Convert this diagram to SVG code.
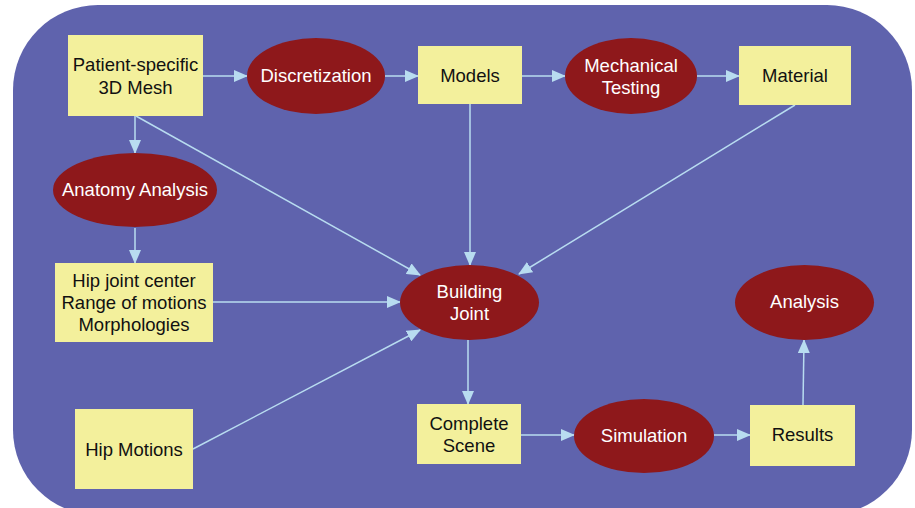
<svg xmlns="http://www.w3.org/2000/svg" width="915" height="508" viewBox="0 0 915 508">
<style>
.box{fill:#f3f09c;}
.ell{fill:#8e181b;}
.bt{font-family:"Liberation Sans",Arial,sans-serif;font-size:18.5px;fill:#111;text-anchor:middle;}
.et{font-family:"Liberation Sans",Arial,sans-serif;font-size:18.5px;fill:#fff;text-anchor:middle;}
.c line{stroke:#b8dcf0;stroke-width:1.5;fill:none;marker-end:url(#ah);}
</style>
<defs>
<marker id="ah" markerWidth="14" markerHeight="12" refX="13" refY="6" orient="auto" markerUnits="userSpaceOnUse">
<path d="M0,0 L14,6 L0,12 Z" fill="#b8dcf0"/>
</marker>
</defs>
<rect width="915" height="508" fill="#fff"/>
<rect x="13" y="5" width="899" height="510" rx="85" ry="85" fill="#5f63ad"/>
<g class="c">
<line x1="203" y1="76" x2="247" y2="76"/>
<line x1="385" y1="76" x2="418" y2="76"/>
<line x1="522" y1="76" x2="565" y2="76"/>
<line x1="697" y1="76" x2="739" y2="76"/>
<line x1="135" y1="116" x2="135" y2="153"/>
<line x1="135" y1="228" x2="135" y2="263"/>
<line x1="136" y1="116" x2="420" y2="275"/>
<line x1="470" y1="104" x2="470" y2="265"/>
<line x1="795" y1="105" x2="519" y2="274"/>
<line x1="213" y1="302" x2="400" y2="302"/>
<line x1="193" y1="449" x2="420" y2="330"/>
<line x1="468" y1="340" x2="468" y2="404"/>
<line x1="521" y1="435" x2="574" y2="435"/>
<line x1="714" y1="435" x2="750" y2="435"/>
<line x1="803" y1="405" x2="804" y2="340"/>
</g>
<g id="mesh"><rect class="box" x="68" y="35" width="135" height="81"/><text class="bt" x="135.5" y="71">Patient-specific</text><text class="bt" x="135.5" y="94">3D Mesh</text></g>
<g id="discretization"><ellipse class="ell" cx="316" cy="76" rx="69" ry="38"/><text class="et" x="316" y="82">Discretization</text></g>
<g id="models"><rect class="box" x="418" y="46" width="104" height="58"/><text class="bt" x="470" y="82">Models</text></g>
<g id="mechanical"><ellipse class="ell" cx="631" cy="76" rx="66" ry="38"/><text class="et" x="631" y="72">Mechanical</text><text class="et" x="631" y="94">Testing</text></g>
<g id="material"><rect class="box" x="739" y="46" width="112" height="59"/><text class="bt" x="795" y="82">Material</text></g>
<g id="anatomy"><ellipse class="ell" cx="135" cy="190" rx="82" ry="37"/><text class="et" x="135" y="196">Anatomy Analysis</text></g>
<g id="hipjoint"><rect class="box" x="55" y="263" width="158" height="79"/><text class="bt" x="134" y="287">Hip joint center</text><text class="bt" x="134" y="309">Range of motions</text><text class="bt" x="134" y="331">Morphologies</text></g>
<g id="building"><ellipse class="ell" cx="469.5" cy="302.5" rx="69.5" ry="37.5"/><text class="et" x="469.5" y="298">Building</text><text class="et" x="469.5" y="320">Joint</text></g>
<g id="hipmotions"><rect class="box" x="75" y="409" width="118" height="80"/><text class="bt" x="134" y="456">Hip Motions</text></g>
<g id="complete"><rect class="box" x="417" y="404" width="104" height="60"/><text class="bt" x="469" y="430">Complete</text><text class="bt" x="469" y="452">Scene</text></g>
<g id="simulation"><ellipse class="ell" cx="644" cy="436" rx="70" ry="37"/><text class="et" x="644" y="442">Simulation</text></g>
<g id="results"><rect class="box" x="750" y="405" width="105" height="61"/><text class="bt" x="802.5" y="441">Results</text></g>
<g id="analysis"><ellipse class="ell" cx="804.5" cy="302.5" rx="69.5" ry="37.5"/><text class="et" x="804.5" y="308">Analysis</text></g>
</svg>
